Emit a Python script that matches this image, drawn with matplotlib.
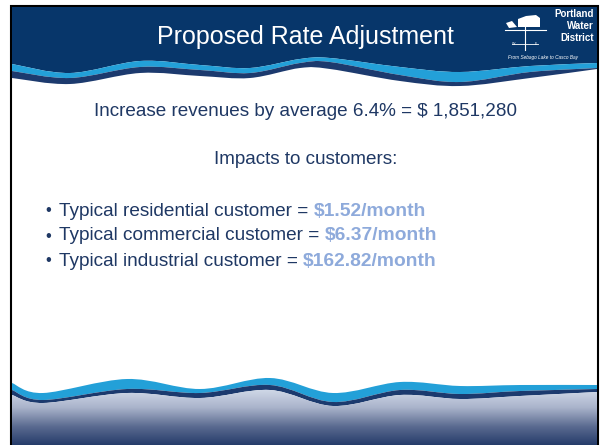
import numpy as np
import matplotlib.pyplot as plt
from matplotlib.path import Path
from matplotlib.patches import PathPatch, Rectangle, Polygon
from matplotlib.colors import LinearSegmentedColormap

# slide text
title = "Proposed Rate Adjustment"
headline = "Increase revenues by average 6.4% = $ 1,851,280"
subhead = "Impacts to customers:"
customers = ["Typical residential customer = ", "Typical commercial customer = ", "Typical industrial customer = "]
amounts = ["$1.52/month", "$6.37/month", "$162.82/month"]
logo_lines = ["Portland", "Water", "District"]
tagline = "From Sebago Lake to Casco Bay"

# wave outlines (pixel coords)
hx = [12, 70, 140, 200, 250, 300, 330, 400, 460, 530, 597]
h_top = [64, 73, 61, 65, 68, 59, 58, 67, 72, 66, 63]
h_mid = [71, 78, 67, 70, 73, 63, 62, 75, 82, 72, 68]
h_bot = [78, 84, 73, 76, 78, 68, 69, 81, 86, 78, 69]

bx = [12, 43, 127, 200, 270, 333, 400, 460, 520, 597]
b_top = [383, 393, 379, 389, 378, 393, 382, 386, 385, 385]
b_mid = [390, 400, 389, 393, 385, 402, 390, 394, 391, 389]
b_bot = [395, 403, 393, 398, 390, 406, 395, 399, 396, 392]

navy = "#07366a"
light_blue = "#23a0d8"
dark_band = "#1c3a6e"
text_col = "#1f3864"
amount_col = "#8eaadb"


def smooth(xs, ys):
    # Catmull-Rom style cubic curve through the points (matplotlib path curves)
    p = np.column_stack([xs, ys]).astype(float)
    verts, codes = [], []
    for i in range(len(p) - 1):
        p0 = p[i - 1] if i > 0 else p[i]
        p3 = p[i + 2] if i + 2 < len(p) else p[i + 1]
        c1 = p[i] + (p[i + 1] - p0) / 6
        c2 = p[i + 1] - (p3 - p[i]) / 6
        verts += [tuple(c1), tuple(c2), tuple(p[i + 1])]
        codes += [Path.CURVE4] * 3
    return [tuple(p[0])] + verts, codes


def band(xs, upper, lower):
    v1, c1 = smooth(xs, upper)
    v2, c2 = smooth(xs[::-1], lower[::-1])
    verts = v1 + v2 + [v1[0]]
    codes = [Path.MOVETO] + c1 + [Path.LINETO] + c2 + [Path.CLOSEPOLY]
    return Path(verts, codes)


fig = plt.figure(figsize=(6, 4.45), dpi=100)
ax = fig.add_axes([0, 0, 1, 1])
ax.set_xlim(0, 600)
ax.set_ylim(445, 0)
ax.axis("off")

# slide frame
ax.add_patch(Rectangle((11, 6), 587, 445, facecolor="white", edgecolor="black", lw=1.5))

# header
ax.add_patch(PathPatch(band(hx, [7] * len(hx), h_top), facecolor=navy, edgecolor="none"))
ax.add_patch(PathPatch(band(hx, h_top, h_mid), facecolor=light_blue, edgecolor="none"))
ax.add_patch(PathPatch(band(hx, h_mid, h_bot), facecolor=dark_band, edgecolor="none"))

# bottom waves + gradient
ax.add_patch(PathPatch(band(bx, b_top, b_mid), facecolor=light_blue, edgecolor="none"))
ax.add_patch(PathPatch(band(bx, b_mid, b_bot), facecolor=dark_band, edgecolor="none"))
grad_clip = PathPatch(band(bx, b_bot, [446] * len(bx)), facecolor="none", edgecolor="none")
ax.add_patch(grad_clip)
grad = np.linspace(0, 1, 256).reshape(-1, 1)
cmap = LinearSegmentedColormap.from_list("sea", ["#d3dbea", "#aab4cb", "#5a6a90", "#233a68"])
im = ax.imshow(grad, cmap=cmap, extent=[12, 597, 446, 388], aspect="auto", zorder=1)
im.set_clip_path(grad_clip)

# title
ax.text(305, 37, title, color="white", fontsize=18, ha="center", va="center",
        family=["Liberation Sans", "DejaVu Sans"])

# logo: weathervane
ax.plot([525, 525], [22, 50], color="white", lw=0.8)
ax.plot([505, 546], [30, 30], color="white", lw=0.8)
ax.plot([512, 538], [44, 44], color="white", lw=0.6)
ax.add_patch(Polygon([[518, 19], [526, 16], [536, 15], [540, 18], [540, 27], [518, 27]],
                     facecolor="white", edgecolor="none"))
ax.add_patch(Polygon([[506, 23], [512, 21], [517, 27], [509, 28]], facecolor="white", edgecolor="none"))
ax.text(514, 44, "W", color="white", fontsize=2.5, ha="center", va="center")
ax.text(536, 44, "E", color="white", fontsize=2.5, ha="center", va="center")
for i, s in enumerate(logo_lines):
    ax.text(594, 14 + 12 * i, s, color="white", fontsize=7, ha="right", va="center", weight="bold",
            family=["Liberation Sans", "DejaVu Sans"])
ax.text(543, 57, tagline, color="white", fontsize=3.4, ha="center", va="center", style="italic",
        family=["Liberation Sans", "DejaVu Sans"])

# body
body_font = ["Liberation Sans", "DejaVu Sans"]
ax.text(306, 112, headline, color=text_col, fontsize=13.6, ha="center", va="center", family=body_font)
ax.text(306, 160, subhead, color=text_col, fontsize=13.6, ha="center", va="center", family=body_font)
for i, (c, a) in enumerate(zip(customers, amounts)):
    y = 211 + 25 * i
    ax.text(45, y, "\u2022", color=text_col, fontsize=12, ha="left", va="center", family=body_font)
    t = ax.text(59, y, c, color=text_col, fontsize=13.7, ha="left", va="center", family=body_font)
    ax.annotate(a, xycoords=t, xy=(1, 0.5), va="center", ha="left", color=amount_col,
                fontsize=13.9, weight="bold", family=body_font)

fig.savefig("out.png", dpi=100)
